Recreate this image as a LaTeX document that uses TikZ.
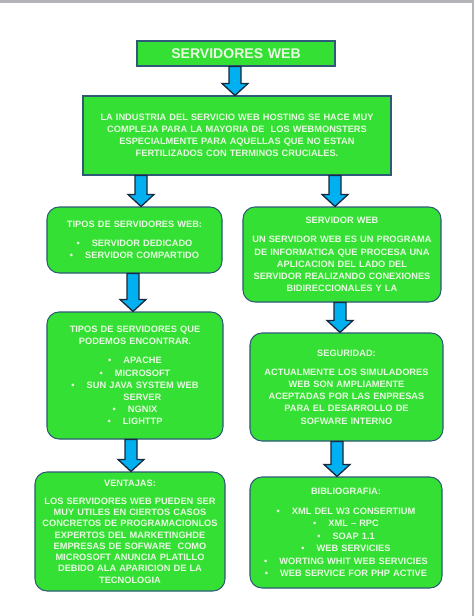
\documentclass[tikz,border=0pt]{standalone}
\usepackage{fontspec}
\setmainfont{Liberation Sans}
\usepackage{tikz}
\usetikzlibrary{calc}
\usepackage{xcolor}
\definecolor{boxgreen}{HTML}{33E033}
\definecolor{boxline}{HTML}{2E5A78}
\definecolor{boxtext}{HTML}{E8FAE2}
\definecolor{arrowblue}{HTML}{00B0F0}
\definecolor{arrowline}{HTML}{16283A}
\definecolor{pagegray}{HTML}{B4B4B8}
\newcommand\flecha[3]{%
  \path (#1,0 |- #2.south) coordinate (fa) (#1,0 |- #3.north) coordinate (fb);
  \filldraw[fill=arrowblue, draw=arrowline, line width=1.1pt, line join=miter]
    ($(fa)+(-6,0)$) -- ($(fb)+(-6,-12)$) -- ($(fb)+(-13,-12)$) -- (fb)
    -- ($(fb)+(13,-12)$) -- ($(fb)+(6,-12)$) -- ($(fa)+(6,0)$) -- cycle;
}
\newcommand\bul{\textbullet\hspace{1.3em}}

\begin{document}
\begin{tikzpicture}[
  x=0.03cm, y=-0.03cm,
  card/.style={draw=boxline, fill=boxgreen, line width=0.9pt, inner xsep=0pt, inner ysep=2pt,
    align=center, text=boxtext, font=\bfseries\fontsize{7.9}{10.4}\selectfont},
  roundcard/.style={card, rounded corners=0.36cm}
]
\fill[white] (0,0) rectangle (474,616);
\fill[pagegray] (0,0) rectangle (474,2.5);
\fill[pagegray] (471.5,0) rectangle (474,616);
\useasboundingbox (0,0) rectangle (474,616);

\node[card, text width=5.94cm, minimum height=0.75cm, font=\bfseries\fontsize{12}{14}\selectfont] (title) at (236,53.5) {SERVIDORES WEB};
\node[card, text width=9.24cm, minimum height=2.37cm] (intro) at (237,135.5)
  {LA INDUSTRIA DEL SERVICIO WEB HOSTING SE HACE MUY\\
   COMPLEJA PARA LA MAYORIA DE \ LOS WEBMONSTERS\\
   ESPECIALMENTE PARA AQUELLAS QUE NO ESTAN\\
   FERTILIZADOS CON TERMINOS CRUCIALES.};
\node[roundcard, text width=5.25cm, minimum height=1.98cm] (tipos) at (134.5,240)
  {TIPOS DE SERVIDORES WEB:\\[6pt]
   \bul SERVIDOR DEDICADO\\
   \bul SERVIDOR COMPARTIDO};
\node[roundcard, text width=5.94cm, minimum height=2.85cm] (servidor) at (342,254.5)
  {SERVIDOR WEB\\[6pt]
   UN SERVIDOR WEB ES UN PROGRAMA\\
   DE INFORMATICA QUE PROCESA UNA\\
   APLICACION DEL LADO DEL\\
   SERVIDOR REALIZANDO CONEXIONES\\
   BIDIRECCIONALES Y LA};
\node[roundcard, text width=5.28cm, minimum height=3.81cm] (encontrar) at (135,375.5)
  {TIPOS DE SERVIDORES QUE\\
   PODEMOS ENCONTRAR.\\[6pt]
   \bul APACHE\\
   \bul MICROSOFT\\
   \bul SUN JAVA SYSTEM WEB\\
   \hspace{1.6em}SERVER\\
   \bul NGNIX\\
   \bul LIGHTTP};
\node[roundcard, text width=5.79cm, minimum height=3.24cm] (seguridad) at (346.5,387)
  {SEGURIDAD:\\[6pt]
   ACTUALMENTE LOS SIMULADORES\\
   WEB SON AMPLIAMENTE\\
   ACEPTADAS POR LAS ENPRESAS\\
   PARA EL DESARROLLO DE\\
   SOFWARE INTERNO};
\node[roundcard, text width=5.7cm, minimum height=3.57cm, font=\bfseries\fontsize{7.9}{9.6}\selectfont] (ventajas) at (130,531.5)
  {VENTAJAS:\\[6pt]
   LOS SERVIDORES WEB PUEDEN SER\\
   MUY UTILES EN CIERTOS CASOS\\
   CONCRETOS DE PROGRAMACIONLOS\\
   EXPERTOS DEL MARKETINGHDE\\
   EMPRESAS DE SOFWARE \ COMO\\
   MICROSOFT ANUNCIA PLATILLO\\
   DEBIDO ALA APARICION DE LA\\
   TECNOLOGIA};
\node[roundcard, text width=5.76cm, minimum height=3.33cm, font=\bfseries\fontsize{7.9}{10.6}\selectfont] (biblio) at (346,532.5)
  {BIBLIOGRAFIA:\\[6pt]
   \bul XML DEL W3 CONSERTIUM\\
   \bul XML -- RPC\\
   \bul SOAP 1.1\\
   \bul WEB SERVICIES\\
   \bul WORTING WHIT WEB SERVICIES\\
   \bul WEB SERVICE FOR PHP ACTIVE};

\flecha{235}{title}{intro}
\flecha{141}{intro}{tipos}
\flecha{335}{intro}{servidor}
\flecha{133}{tipos}{encontrar}
\flecha{340}{servidor}{seguridad}
\flecha{131}{encontrar}{ventajas}
\flecha{337}{seguridad}{biblio}
\end{tikzpicture}
\end{document}
